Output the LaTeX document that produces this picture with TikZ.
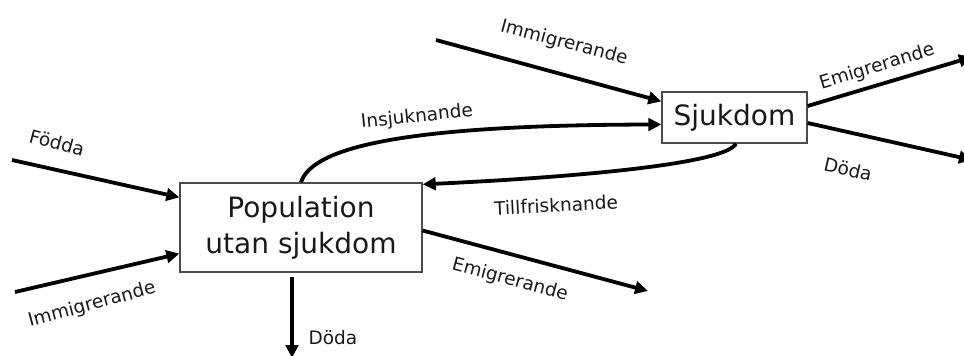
\documentclass[tikz,border=0pt]{standalone}
\usepackage{fontspec}
\setmainfont{DejaVu Sans}
\usetikzlibrary{arrows.meta,calc}
\begin{document}
\begin{tikzpicture}[x=1pt,y=-1pt,
  flow/.style={line width=3.8pt,-{Triangle[length=13pt,width=12.5pt]}},
  boxnode/.style={draw=black!70,line width=1.3pt,fill=white,align=center,
    font=\fontsize{28}{36}\selectfont,inner sep=0pt,text=black!90},
  lbl/.style={font=\fontsize{18.5}{22}\selectfont,inner sep=0pt,text=black!90}]
\useasboundingbox (0,0) rectangle (964,356);

\node[boxnode,minimum width=242pt,minimum height=89pt] (pop) at (301,227.5) {Population\\utan sjukdom};
\node[boxnode,minimum width=145pt,minimum height=51pt] (sj) at (734.5,117.5) {Sjukdom};

\coordinate (fodIn) at (12,160);
\coordinate (immIn) at (15,292);
\coordinate (dodStart) at (292,277);
\coordinate (dodOut) at (292,358);
\coordinate (emiOut) at (648,291);
\coordinate (immTop) at (436,40);
\coordinate (emiTop) at (972,57);
\coordinate (dodTop) at (972,160);

\draw[flow] (fodIn) -- ($(pop.north west)+(0,15)$);
\draw[flow] (immIn) -- ($(pop.south west)+(0,-19)$);
\draw[flow] (dodStart) -- (dodOut);
\draw[flow] ($(pop.east)+(0,3)$) -- (emiOut);
\draw[flow] (pop.north) .. controls (312,148) and (400,125) .. ($(sj.west)+(0,7)$);
\draw[flow] ($(sj.south)+(1.5,0)$) .. controls (725,165) and (560,178) .. ($(pop.north east)+(0,2)$);
\draw[flow] (immTop) -- ($(sj.north west)+(0,10)$);
\draw[flow] ($(sj.east)+(0,-11.5)$) -- (emiTop);
\draw[flow] ($(sj.east)+(0,5.5)$) -- (dodTop);

\node[lbl,rotate=-15] (lImmTop) at (564,43) {Immigrerande};
\node[lbl,rotate=17] (lEmiTop) at (877,67) {Emigrerande};
\node[lbl,rotate=-13] (lDodTop) at (848,169) {Döda};
\node[lbl,rotate=6] (lInsj) at (417,117) {Insjuknande};
\node[lbl,rotate=3] (lTill) at (556,205) {Tillfrisknande};
\node[lbl,rotate=-15] (lEmi) at (510,280) {Emigrerande};
\node[lbl,rotate=-15] (lFod) at (57,143) {Födda};
\node[lbl,rotate=15] (lImm) at (92,305) {Immigrerande};
\node[lbl] (lDod) at (333,338) {Döda};
\end{tikzpicture}
\end{document}
